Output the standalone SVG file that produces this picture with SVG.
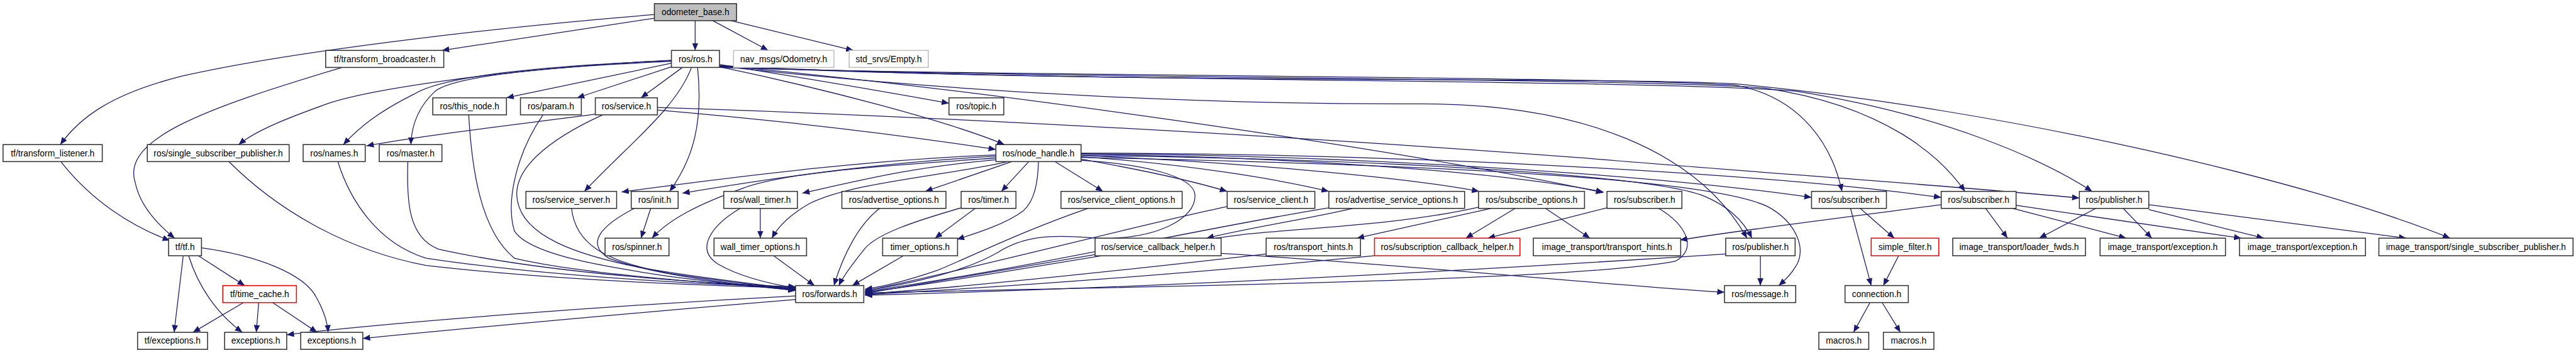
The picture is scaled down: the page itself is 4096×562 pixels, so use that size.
<svg xmlns="http://www.w3.org/2000/svg" width="4096" height="562" viewBox="0 0 4096 562">
<defs>
<marker id="a" viewBox="0 0 12 10" refX="12" refY="5" markerWidth="12" markerHeight="10" markerUnits="userSpaceOnUse" orient="auto"><path d="M0,0 L12,5 L0,10 z" fill="#191970"/></marker>
<style>
.n rect{fill:#fff;stroke:#333;stroke-width:1.6}
.n text{font-family:"Liberation Sans",Arial,sans-serif;font-size:14.3px;text-anchor:middle;fill:#000}
.g rect{stroke:#bfbfbf}
.r rect{stroke:#ff0000}
.root rect{fill:#bfbfbf}
#edges path{fill:none;stroke:#191970;stroke-width:1.3;marker-end:url(#a)}
</style>
</defs>
<rect width="4096" height="562" fill="#fff"/>
<g transform="scale(0.9679 0.9673)">
<g id="edges">
<path d="M1075,24 C850,42 500,80 300,125 C180,155 130,195 99,238"/>
<path d="M1075,30 L726,83"/>
<path d="M1142,34 L1142,83"/>
<path d="M1171,34 L1262,83"/>
<path d="M1201,34 L1402,83"/>
<path d="M562,111 C330,180 200,230 222,300 C230,340 262,372 287,392"/>
<path d="M100,266 C150,330 215,372 279,396"/>
<path d="M301,421 L286,547"/>
<path d="M310,421 C325,470 355,515 398,547"/>
<path d="M326,421 L402,470"/>
<path d="M331,408 C420,420 500,450 520,490 C532,512 538,530 539,547"/>
<path d="M400,498 L317,547"/>
<path d="M425,498 L421,547"/>
<path d="M448,498 L521,547"/>
<path d="M1307,487 C1000,503 650,530 471,551"/>
<path d="M1307,493 C1000,518 720,545 596,557"/>
<path d="M1103,99 C800,115 600,150 540,170 C470,195 420,215 392,238"/>
<path d="M1103,100 C850,110 720,130 680,155 C620,185 590,210 564,238"/>
<path d="M1103,101 C850,112 740,130 715,150 C688,175 676,205 675,238"/>
<path d="M1103,104 L832,161"/>
<path d="M1103,110 L948,161"/>
<path d="M1121,111 L1053,161"/>
<path d="M1136,111 C1110,180 1030,240 960,315"/>
<path d="M1146,111 C1155,200 1140,260 1100,315"/>
<path d="M1182,106 C1300,125 1450,150 1559,170"/>
<path d="M1182,110 C1350,145 1560,200 1650,238"/>
<path d="M1182,108 C1600,145 2300,245 2634,317"/>
<path d="M1182,109 C1600,155 2000,172 2330,171 C2600,170 2790,250 2870,392"/>
<path d="M1182,111 C1600,125 2600,125 2850,140 C2960,160 3010,240 3026,315"/>
<path d="M1182,110 C1700,130 2700,128 2900,145 C3100,175 3190,260 3228,315"/>
<path d="M1182,109 C1700,135 2700,130 2950,150 C3200,190 3360,265 3437,315"/>
<path d="M1182,108 C1800,140 2600,125 2850,138 C3300,180 3800,300 4025,392"/>
<path d="M985,187 C850,205 700,222 602,240"/>
<path d="M1080,181 C1300,200 1500,225 1636,246"/>
<path d="M1080,177 C1500,190 2100,222 2600,260 C2900,285 3200,305 3416,326"/>
<path d="M990,189 C900,230 840,280 850,330 C860,390 950,420 1050,440 C1150,458 1250,468 1307,476"/>
<path d="M892,189 C850,250 830,330 845,380 C870,420 1000,440 1100,455 C1200,468 1270,474 1307,478"/>
<path d="M770,189 C775,280 790,380 845,425 C950,450 1150,465 1307,476"/>
<path d="M376,266 C450,340 560,410 700,437 C900,460 1150,470 1307,474"/>
<path d="M555,266 C575,330 620,400 700,425 C900,455 1150,468 1307,473"/>
<path d="M670,266 C668,330 670,390 720,410 C900,450 1150,466 1307,472"/>
<path d="M939,343 C945,400 990,430 1100,450 C1200,465 1270,472 1307,477"/>
<path d="M1042,343 C990,370 960,400 1000,425 C1080,455 1230,470 1307,478"/>
<path d="M1069,343 L1053,392"/>
<path d="M1216,343 C1170,370 1140,410 1180,435 C1220,458 1270,468 1307,474"/>
<path d="M1249,343 L1249,392"/>
<path d="M1271,421 L1338,470"/>
<path d="M1636,260 C1500,270 1300,280 1220,310 C1150,335 1100,360 1071,392"/>
<path d="M1636,255 C1450,262 1250,285 1021,316"/>
<path d="M1636,257 C1450,268 1300,288 1121,318"/>
<path d="M1636,263 C1500,275 1420,295 1318,318"/>
<path d="M1655,266 C1550,290 1400,300 1330,335 C1300,352 1280,370 1268,392"/>
<path d="M1662,266 L1520,315"/>
<path d="M1690,266 L1645,315"/>
<path d="M1706,266 C1705,300 1700,330 1681,347 C1650,370 1600,385 1572,394"/>
<path d="M1733,266 L1812,315"/>
<path d="M1776,262 C1850,275 1950,295 2016,315"/>
<path d="M1776,258 C1950,270 2100,295 2183,315"/>
<path d="M1776,256 C2000,265 2300,290 2430,315"/>
<path d="M1776,254 C2100,258 2450,280 2634,316"/>
<path d="M1776,253 C2200,255 2700,285 2976,325"/>
<path d="M1776,252 C2300,252 2900,285 3189,325"/>
<path d="M1776,256 C2300,262 2720,290 2800,323 C2840,340 2865,365 2878,392"/>
<path d="M1776,259 C2300,270 2800,290 2904,340 C2950,365 2970,410 2949,440 C2940,455 2930,463 2922,470"/>
<path d="M1776,264 C1880,270 1960,290 1963,320 C1966,360 1900,395 1800,392 C1720,385 1680,390 1640,415 C1580,450 1480,470 1421,478"/>
<path d="M1445,343 C1410,370 1385,420 1370,470"/>
<path d="M1579,342 C1500,365 1440,385 1420,410 C1400,435 1385,455 1378,470"/>
<path d="M1602,343 L1536,392"/>
<path d="M1484,421 L1400,470"/>
<path d="M1787,343 C1680,380 1600,420 1540,445 C1490,462 1450,472 1421,476"/>
<path d="M2016,340 C1850,375 1650,430 1421,479"/>
<path d="M2183,342 C1950,380 1700,440 1421,480"/>
<path d="M2222,343 C2150,360 2050,375 1982,392"/>
<path d="M2429,341 C2300,370 2150,375 2050,385 C1850,410 1600,460 1421,481"/>
<path d="M2449,343 L2229,392"/>
<path d="M2489,343 L2408,392"/>
<path d="M2539,343 L2612,392"/>
<path d="M2640,342 L2444,392"/>
<path d="M2725,343 C2770,370 2790,410 2752,430 C2600,460 2000,470 1421,482"/>
<path d="M1799,419 C1650,445 1500,470 1421,483"/>
<path d="M2006,417 C2300,435 2650,470 2833,481"/>
<path d="M2080,418 C1800,450 1550,475 1421,484"/>
<path d="M2258,421 C1900,455 1600,475 1421,485"/>
<path d="M2835,418 C2500,440 2000,470 1421,486"/>
<path d="M2892,421 L2892,470"/>
<path d="M3056,343 L3112,392"/>
<path d="M3040,343 L3074,470"/>
<path d="M3119,421 L3094,470"/>
<path d="M3072,498 L3045,547"/>
<path d="M3092,498 L3122,547"/>
<path d="M3189,337 C3050,355 2850,380 2760,395"/>
<path d="M3262,343 L3298,392"/>
<path d="M3307,343 L3493,392"/>
<path d="M3312,338 L3682,392"/>
<path d="M3443,343 L3350,392"/>
<path d="M3488,343 L3535,392"/>
<path d="M3530,345 L3719,392"/>
<path d="M3530,337 L3953,392"/>
</g>
<g id="odometer_base" class="n root"><rect x="1075" y="6" width="135" height="28"/><text x="1142.5" y="25">odometer_base.h</text></g>
<g id="tf_transform_broadcaster" class="n"><rect x="535" y="83" width="194" height="28"/><text x="632" y="102">tf/transform_broadcaster.h</text></g>
<g id="ros_ros" class="n"><rect x="1103" y="83" width="79" height="28"/><text x="1142.5" y="102">ros/ros.h</text></g>
<g id="nav_msgs_odometry" class="n g"><rect x="1205" y="83" width="165" height="28"/><text x="1287.5" y="102">nav_msgs/Odometry.h</text></g>
<g id="std_srvs_empty" class="n g"><rect x="1395" y="83" width="130" height="28"/><text x="1460" y="102">std_srvs/Empty.h</text></g>
<g id="ros_this_node" class="n"><rect x="711" y="161" width="121" height="28"/><text x="771.5" y="180">ros/this_node.h</text></g>
<g id="ros_param" class="n"><rect x="855" y="161" width="100" height="28"/><text x="905" y="180">ros/param.h</text></g>
<g id="ros_service" class="n"><rect x="978" y="161" width="102" height="28"/><text x="1029" y="180">ros/service.h</text></g>
<g id="ros_topic" class="n"><rect x="1559" y="161" width="90" height="28"/><text x="1604" y="180">ros/topic.h</text></g>
<g id="tf_transform_listener" class="n"><rect x="5" y="238" width="163" height="28"/><text x="86.5" y="257">tf/transform_listener.h</text></g>
<g id="ros_single_subscriber_publisher" class="n"><rect x="242" y="238" width="233" height="28"/><text x="358.5" y="257">ros/single_subscriber_publisher.h</text></g>
<g id="ros_names" class="n"><rect x="498" y="238" width="102" height="28"/><text x="549" y="257">ros/names.h</text></g>
<g id="ros_master" class="n"><rect x="623" y="238" width="103" height="28"/><text x="674.5" y="257">ros/master.h</text></g>
<g id="ros_node_handle" class="n"><rect x="1636" y="238" width="140" height="28"/><text x="1706" y="257">ros/node_handle.h</text></g>
<g id="ros_service_server" class="n"><rect x="864" y="315" width="149" height="28"/><text x="938.5" y="334">ros/service_server.h</text></g>
<g id="ros_init" class="n"><rect x="1037" y="315" width="77" height="28"/><text x="1075.5" y="334">ros/init.h</text></g>
<g id="ros_wall_timer" class="n"><rect x="1189" y="315" width="121" height="28"/><text x="1249.5" y="334">ros/wall_timer.h</text></g>
<g id="ros_advertise_options" class="n"><rect x="1383" y="315" width="171" height="28"/><text x="1468.5" y="334">ros/advertise_options.h</text></g>
<g id="ros_timer" class="n"><rect x="1579" y="315" width="90" height="28"/><text x="1624" y="334">ros/timer.h</text></g>
<g id="ros_service_client_options" class="n"><rect x="1743" y="315" width="199" height="28"/><text x="1842.5" y="334">ros/service_client_options.h</text></g>
<g id="ros_service_client" class="n"><rect x="2016" y="315" width="144" height="28"/><text x="2088" y="334">ros/service_client.h</text></g>
<g id="ros_advertise_service_options" class="n"><rect x="2183" y="315" width="223" height="28"/><text x="2294.5" y="334">ros/advertise_service_options.h</text></g>
<g id="ros_subscribe_options" class="n"><rect x="2429" y="315" width="174" height="28"/><text x="2516" y="334">ros/subscribe_options.h</text></g>
<g id="ros_subscriber_a" class="n"><rect x="2640" y="315" width="123" height="28"/><text x="2701.5" y="334">ros/subscriber.h</text></g>
<g id="ros_subscriber_b" class="n"><rect x="2976" y="315" width="123" height="28"/><text x="3037.5" y="334">ros/subscriber.h</text></g>
<g id="ros_subscriber_c" class="n"><rect x="3189" y="315" width="123" height="28"/><text x="3250.5" y="334">ros/subscriber.h</text></g>
<g id="ros_publisher_r" class="n"><rect x="3416" y="315" width="114" height="28"/><text x="3473" y="334">ros/publisher.h</text></g>
<g id="tf_tf" class="n"><rect x="277" y="392" width="54" height="29"/><text x="304" y="411">tf/tf.h</text></g>
<g id="ros_spinner" class="n"><rect x="994" y="392" width="105" height="29"/><text x="1046.5" y="411">ros/spinner.h</text></g>
<g id="wall_timer_options" class="n"><rect x="1173" y="392" width="152" height="29"/><text x="1249" y="411">wall_timer_options.h</text></g>
<g id="timer_options" class="n"><rect x="1450" y="392" width="123" height="29"/><text x="1511.5" y="411">timer_options.h</text></g>
<g id="ros_service_callback_helper" class="n"><rect x="1799" y="392" width="207" height="29"/><text x="1902.5" y="411">ros/service_callback_helper.h</text></g>
<g id="ros_transport_hints" class="n"><rect x="2080" y="392" width="155" height="29"/><text x="2157.5" y="411">ros/transport_hints.h</text></g>
<g id="ros_subscription_callback_helper" class="n r"><rect x="2258" y="392" width="239" height="29"/><text x="2377.5" y="411">ros/subscription_callback_helper.h</text></g>
<g id="image_transport_transport_hints" class="n"><rect x="2519" y="392" width="242" height="29"/><text x="2640" y="411">image_transport/transport_hints.h</text></g>
<g id="ros_publisher_l" class="n"><rect x="2835" y="392" width="114" height="29"/><text x="2892" y="411">ros/publisher.h</text></g>
<g id="simple_filter" class="n r"><rect x="3074" y="392" width="111" height="29"/><text x="3129.5" y="411">simple_filter.h</text></g>
<g id="image_transport_loader_fwds" class="n"><rect x="3208" y="392" width="218" height="29"/><text x="3317" y="411">image_transport/loader_fwds.h</text></g>
<g id="image_transport_exception_1" class="n"><rect x="3450" y="392" width="206" height="29"/><text x="3553" y="411">image_transport/exception.h</text></g>
<g id="image_transport_exception_2" class="n"><rect x="3679" y="392" width="207" height="29"/><text x="3782.5" y="411">image_transport/exception.h</text></g>
<g id="image_transport_single_subscriber_publisher" class="n"><rect x="3908" y="392" width="319" height="29"/><text x="4067.5" y="411">image_transport/single_subscriber_publisher.h</text></g>
<g id="tf_time_cache" class="n r"><rect x="366" y="470" width="121" height="28"/><text x="426.5" y="489">tf/time_cache.h</text></g>
<g id="ros_forwards" class="n"><rect x="1307" y="470" width="112" height="28"/><text x="1363" y="489">ros/forwards.h</text></g>
<g id="ros_message" class="n"><rect x="2833" y="470" width="117" height="28"/><text x="2891.5" y="489">ros/message.h</text></g>
<g id="connection" class="n"><rect x="3031" y="470" width="104" height="28"/><text x="3083" y="489">connection.h</text></g>
<g id="tf_exceptions" class="n"><rect x="226" y="547" width="115" height="28"/><text x="283.5" y="566">tf/exceptions.h</text></g>
<g id="exceptions_1" class="n"><rect x="369" y="547" width="102" height="28"/><text x="420" y="566">exceptions.h</text></g>
<g id="exceptions_2" class="n"><rect x="494" y="547" width="102" height="28"/><text x="545" y="566">exceptions.h</text></g>
<g id="macros_1" class="n"><rect x="2988" y="547" width="82" height="28"/><text x="3029" y="566">macros.h</text></g>
<g id="macros_2" class="n"><rect x="3094" y="547" width="83" height="28"/><text x="3135.5" y="566">macros.h</text></g>
</g>
</svg>
